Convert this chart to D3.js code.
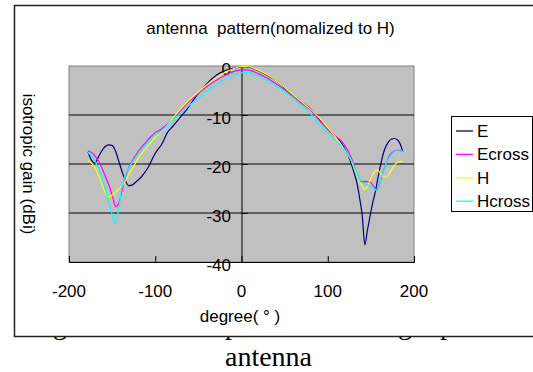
<!DOCTYPE html>
<html>
<head>
<meta charset="utf-8">
<script src="https://cdn.jsdelivr.net/npm/d3@7"></script>
<style>
  html, body { margin: 0; padding: 0; background: #fff; overflow: hidden; }
  svg { display: block; }
</style>
</head>
<body>
<div id="chart"></div>
<script>
// angle (deg) and gain (dBi)
const eDeg  = [-178,-174,-170,-166,-160,-154,-150,-146,-142,-138,-134,-131,-127,-122,-116,-108,-100,-92,-86,-80,-72,-64,-56,-48,-40,-30,-20,-10,0,6,12,20,30,40,48,56,64,72,80,90,100,108,114,120,126,130,134,137,140,143,146,149,152,155,158,162,166,170,174,177,181,184,187];
const eGain = [-17.5,-19.2,-19.8,-18.6,-16.8,-16.1,-16.2,-17.4,-19.6,-21.8,-23.6,-24.4,-24.3,-23.6,-22.6,-20.6,-17.8,-15.8,-13.6,-12.4,-10.7,-9.0,-7.0,-5.2,-3.6,-2.0,-1.0,-0.5,-0.2,-0.2,-0.4,-1.0,-1.9,-3.0,-4.2,-5.5,-6.6,-7.6,-8.7,-10.8,-12.9,-14.3,-15.3,-17.0,-19.3,-21.5,-24.0,-27.0,-30.5,-36.5,-33.5,-30.7,-28.0,-25.8,-23.0,-19.6,-17.0,-15.6,-14.9,-14.8,-15.1,-15.9,-17.5];

const ecDeg  = [-178,-172,-168,-164,-160,-156,-152,-149,-146,-143,-140,-137,-134,-130,-125,-120,-113,-106,-100,-94,-88,-82,-72,-64,-56,-48,-40,-30,-20,-10,0,6,12,20,30,40,48,56,64,72,80,90,100,108,114,120,126,132,137,141,145,149,153,157,161,164,168,172,177,182,187];
const ecGain = [-17.3,-17.9,-18.8,-20.0,-21.6,-23.3,-25.2,-27.0,-28.7,-28.3,-26.5,-24.3,-22.3,-20.4,-18.9,-17.5,-16.0,-14.6,-13.6,-13.0,-12.2,-11.2,-9.4,-7.8,-6.5,-5.3,-4.2,-3.0,-2.0,-1.2,-0.8,-0.8,-1.0,-1.6,-2.5,-3.6,-4.6,-5.7,-6.8,-7.9,-9.0,-11.1,-12.8,-14.2,-15.0,-16.3,-18.2,-21.0,-23.3,-23.6,-23.6,-23.7,-24.5,-25.3,-23.5,-21.6,-19.8,-18.2,-17.4,-17.1,-17.5];

const hDeg  = [-178,-172,-166,-160,-155,-150,-145,-139,-135,-131,-125,-120,-113,-106,-100,-94,-88,-82,-72,-64,-56,-48,-40,-30,-20,-10,0,6,12,20,30,40,48,56,64,72,80,90,100,108,114,120,126,132,137,141,143,146,149,153,157,161,165,168,172,176,182,187];
const hGain = [-19.4,-20.2,-22.2,-25.0,-26.7,-26.4,-25.5,-24.6,-23.6,-22.2,-20.5,-18.9,-17.2,-15.8,-14.5,-13.6,-12.5,-11.2,-9.0,-7.5,-6.2,-5.0,-3.8,-2.5,-1.4,-0.6,-0.1,-0.1,-0.3,-0.9,-1.8,-3.0,-4.1,-5.3,-6.5,-7.6,-8.8,-10.6,-12.6,-14.3,-15.7,-17.2,-18.9,-21.5,-23.6,-24.8,-25.2,-24.6,-23.3,-21.9,-21.2,-21.8,-22.6,-22.7,-21.8,-20.5,-19.6,-19.4];

const hcDeg  = [-178,-172,-168,-164,-161,-158,-155,-152,-149,-147,-145,-143,-141,-139,-136,-133,-129,-125,-119,-114,-106,-100,-94,-88,-82,-72,-64,-56,-48,-40,-30,-20,-10,0,6,12,20,30,40,48,56,64,72,80,90,100,108,114,120,126,132,137,141,145,149,153,157,161,164,168,172,177,182,185,187];
const hcGain = [-17.6,-18.8,-20.0,-21.6,-23.2,-25.0,-27.0,-29.0,-30.9,-32.1,-31.3,-29.8,-27.5,-25.0,-23.0,-21.6,-20.3,-19.2,-17.8,-16.8,-15.1,-14.1,-13.4,-12.5,-11.5,-9.9,-8.5,-7.4,-6.3,-5.1,-3.9,-2.8,-1.9,-1.4,-1.3,-1.5,-2.1,-3.0,-4.0,-4.9,-6.0,-7.2,-8.4,-9.7,-11.9,-13.7,-15.0,-16.0,-17.2,-18.8,-21.0,-23.3,-23.9,-24.2,-24.5,-25.0,-25.4,-23.5,-21.6,-19.8,-18.5,-17.5,-17.0,-17.2,-17.5];

const seriesNames  = ["E", "Ecross", "H", "Hcross"];
const seriesColors = ["#000080", "#ff00ff", "#ffff00", "#00ffff"];
const xTicks = [-200, -100, 0, 100, 200];
const yTicks = [0, -10, -20, -30, -40];

const width = 533, height = 372;
const font = "'Liberation Sans', Arial, sans-serif";
const serif = "'Liberation Serif', 'Times New Roman', serif";

const svg = d3.select("#chart").append("svg")
    .attr("width", width)
    .attr("height", height);

// page caption line, mostly hidden behind the chart box
const hidden = [["g", 60], ["p", 232], ["g", 405], ["p", 447]];
svg.selectAll("text.hid").data(hidden).enter().append("text")
    .attr("class", "hid")
    .attr("x", d => d[1])
    .attr("y", 334)
    .attr("text-anchor", "middle")
    .attr("font-family", serif)
    .attr("font-size", 28)
    .text(d => d[0]);

svg.append("text")
    .attr("x", 268.5)
    .attr("y", 366)
    .attr("text-anchor", "middle")
    .attr("font-family", serif)
    .attr("font-size", 28)
    .text("antenna");

// chart box
svg.append("rect")
    .attr("x", 14.5)
    .attr("y", 5.5)
    .attr("width", 540)
    .attr("height", 331)
    .attr("fill", "#fff")
    .attr("stroke", "#222")
    .attr("stroke-width", 1.5);

const x = d3.scaleLinear().domain([-200, 200]).range([69, 414]);
const y = d3.scaleLinear().domain([-40, 0]).range([262, 66]);

// plot area
svg.append("rect")
    .attr("x", x(-200))
    .attr("y", y(0))
    .attr("width", x(200) - x(-200))
    .attr("height", y(-40) - y(0))
    .attr("fill", "#c0c0c0")
    .attr("stroke", "#808080")
    .attr("stroke-width", 1);

// gridlines
svg.selectAll("line.grid").data(yTicks.filter(d => d > -40 && d < 0)).enter().append("line")
    .attr("class", "grid")
    .attr("x1", x(-200)).attr("x2", x(200))
    .attr("y1", d => y(d)).attr("y2", d => y(d))
    .attr("stroke", "#000")
    .attr("stroke-width", 1);

// y axis at x = 0, labels to the left
const yAxis = svg.append("g")
    .attr("transform", `translate(${x(0)},0)`)
    .call(d3.axisRight(y).tickValues(yTicks).tickSize(6).tickFormat(""));
yAxis.select(".domain").attr("stroke", "#000");
yAxis.selectAll(".tick line").attr("stroke", "#000");

svg.selectAll("text.ylab").data(yTicks).enter().append("text")
    .attr("class", "ylab")
    .attr("x", 231)
    .attr("y", d => y(d) + 9)
    .attr("text-anchor", "end")
    .attr("font-family", font)
    .attr("font-size", 17)
    .text(d => d);

// x axis at the bottom, ticks pointing up
const xAxis = svg.append("g")
    .attr("transform", `translate(0,${y(-40)})`)
    .call(d3.axisTop(x).tickValues(xTicks).tickSize(6).tickFormat(""));
xAxis.select(".domain").attr("stroke", "#000");
xAxis.selectAll(".tick line").attr("stroke", "#000");

svg.selectAll("text.xlab").data(xTicks).enter().append("text")
    .attr("class", "xlab")
    .attr("x", d => x(d))
    .attr("y", 297)
    .attr("text-anchor", "middle")
    .attr("font-family", font)
    .attr("font-size", 17)
    .text(d => d);

// series
const series = [
    { deg: eDeg, gain: eGain },
    { deg: ecDeg, gain: ecGain },
    { deg: hDeg, gain: hGain },
    { deg: hcDeg, gain: hcGain }
];

const line = d3.line()
    .x(d => x(d[0]))
    .y(d => y(d[1]))
    .curve(d3.curveMonotoneX);

series.forEach((s, i) => {
    svg.append("path")
        .datum(d3.zip(s.deg, s.gain))
        .attr("d", line)
        .attr("fill", "none")
        .attr("stroke", seriesColors[i])
        .attr("stroke-width", 1.2);
});

// titles
svg.append("text")
    .attr("x", 270.5)
    .attr("y", 34)
    .attr("text-anchor", "middle")
    .attr("font-family", font)
    .attr("font-size", 17)
    .attr("xml:space", "preserve")
    .text("antenna  pattern(nomalized to H)");

svg.append("text")
    .attr("x", 240)
    .attr("y", 322)
    .attr("text-anchor", "middle")
    .attr("font-family", font)
    .attr("font-size", 17)
    .attr("xml:space", "preserve")
    .text("degree( ° )");

svg.append("text")
    .attr("transform", "translate(23,164) rotate(90)")
    .attr("text-anchor", "middle")
    .attr("font-family", font)
    .attr("font-size", 17)
    .text("isotropic gain (dBi)");

// legend
const legend = svg.append("g");
legend.append("rect")
    .attr("x", 451.5)
    .attr("y", 116.5)
    .attr("width", 81)
    .attr("height", 95)
    .attr("fill", "#fff")
    .attr("stroke", "#000")
    .attr("stroke-width", 1);

seriesNames.forEach((name, i) => {
    const cy = 131 + i * 23.4;
    legend.append("line")
        .attr("x1", 456).attr("x2", 473)
        .attr("y1", cy).attr("y2", cy)
        .attr("stroke", seriesColors[i])
        .attr("stroke-width", 1.3);
    legend.append("text")
        .attr("x", 477)
        .attr("y", cy + 6)
        .attr("font-family", font)
        .attr("font-size", 17)
        .text(name);
});
</script>
</body>
</html>
